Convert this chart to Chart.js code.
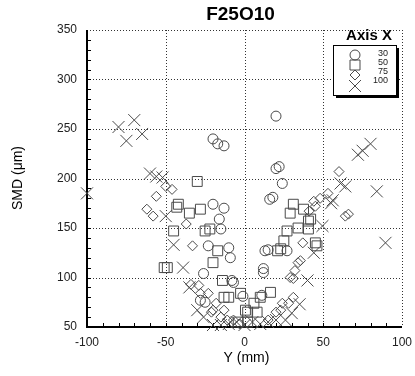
<!DOCTYPE html>
<html>
<head>
<meta charset="utf-8">
<script src="https://cdn.jsdelivr.net/npm/chart.js@4.4.0/dist/chart.umd.min.js"></script>
<style>
html, body { margin: 0; padding: 0; background: #fff; }
#wrap { width: 415px; height: 376px; }
</style>
</head>
<body>
<div id="wrap"><canvas id="smdChart" width="415" height="376"></canvas></div>
<script>
// radial position Y (mm) and SMD (um), one pair of arrays per axial station X
const pos30 = [-20, -17, -13, 20, 20, 22, 24, 16, 18, -20, -13, -16, -15, -23, -10, -9, -26, -28, -8, -7, 15, 13, 27, 12, 12, -25, -1, 11];
const smd30 = [240, 235, 233, 263, 210, 212, 195, 179, 181, 174, 170, 159, 149, 132, 130, 120, 104, 77, 97, 95, 128, 127, 127, 109, 105, 75, 81, 82];

const pos50 = [-30, -42, -43, -35, -28, -45, -25, -22, -17, -20, -51, -49, -14, -13, -10, -2.5, 16.5, 10, 6, 2, 0.6, 8, -4, 2, 31, 37.5, 29, 40.6, 34, 40.6, 27, 25, 23, 21, 45, 46, 42];
const smd50 = [197, 174, 171, 165, 169, 147, 147, 149, 127, 115, 110, 110, 97, 80, 80, 84, 85, 80, 74, 65, 67, 65, 55, 55, 174, 169, 165, 157, 150, 149, 147, 137, 129, 127, 135, 132, 159];

const pos75 = [-56, -58, -37, -33, -46, -50, -62, -23, -20, -15, -11, -28, -29, -34, -18, -21, -13, -7, -3, 29, 24, 20, 15, 23, 28, 31, 37, 34, 31, 60, 53, 48, 44, 64, 66, 41, 45, 35.5, 32];
const smd75 = [182, 162, 154, 132, 189, 192, 169, 84, 67, 60, 57, 84, 92, 93, 74, 65, 67, 57, 53, 100, 74, 65, 57, 67, 74, 80, 135, 115, 99, 207, 185, 180, 177, 162, 164, 167, 172, 117, 107];

const pos100 = [-100, -80, -75, -70, -65, -60, -56, -52, -50, -45, -39, -35, -30, -26, -20, -15, -10, -5, 0, 5, 10, 15, 20, 26, 30, 35, 40, 44, 49.5, 55, 56, 61, 64, 72, 75, 80, 84, 89.5];
const smd100 = [185, 252, 238, 259, 245, 205, 202, 201, 162, 133, 110, 90, 67, 60, 52, 52, 53, 55, 52, 55, 53, 55, 57, 57, 64, 73, 97, 125, 152, 175, 178, 195, 192, 224, 228, 235, 187, 135];

const stationLabels = ['30', '50', '75', '100'];
const xTicks = [-100, -50, 0, 50, 100];
const yTicks = [50, 100, 150, 200, 250, 300, 350];

const markStyles = ['circle', 'rect', 'rectRot', 'crossRot'];
const markRadius = [5, 7, 5, 8.5];
const inkColor = '#4a4a4a';

function toPoints(xs, ys) {
    return xs.map((x, i) => ({ x: x, y: ys[i] }));
}

const seriesData = [
    toPoints(pos30, smd30),
    toPoints(pos50, smd50),
    toPoints(pos75, smd75),
    toPoints(pos100, smd100)
];

// dotted grid, solid axes and minor ticks, drawn through the scales
const framePlugin = {
    id: 'frame',
    beforeDatasetsDraw(chart) {
        const ctx = chart.ctx;
        const xs = chart.scales.x;
        const ys = chart.scales.y;
        const a = chart.chartArea;
        ctx.save();
        ctx.strokeStyle = '#333';
        ctx.lineWidth = 1;
        ctx.setLineDash([1, 2]);
        xTicks.slice(1).forEach(v => {
            const px = Math.round(xs.getPixelForValue(v)) + 0.5;
            ctx.beginPath();
            ctx.moveTo(px, a.top);
            ctx.lineTo(px, a.bottom);
            ctx.stroke();
        });
        yTicks.slice(1).forEach(v => {
            const py = Math.round(ys.getPixelForValue(v)) + 0.5;
            ctx.beginPath();
            ctx.moveTo(a.left, py);
            ctx.lineTo(a.right, py);
            ctx.stroke();
        });
        ctx.setLineDash([]);

        // minor ticks every 10 units, pointing inwards
        ctx.strokeStyle = '#000';
        for (let v = 60; v < 350; v += 10) {
            const py = Math.round(ys.getPixelForValue(v)) + 0.5;
            ctx.beginPath();
            ctx.moveTo(a.left, py);
            ctx.lineTo(a.left + 4, py);
            ctx.stroke();
        }
        for (let v = -90; v < 100; v += 10) {
            const px = Math.round(xs.getPixelForValue(v)) + 0.5;
            ctx.beginPath();
            ctx.moveTo(px, a.bottom);
            ctx.lineTo(px, a.bottom - 4);
            ctx.stroke();
        }

        // solid left and bottom axes
        ctx.lineWidth = 2;
        ctx.beginPath();
        ctx.moveTo(a.left, a.top);
        ctx.lineTo(a.left, a.bottom);
        ctx.lineTo(a.right, a.bottom);
        ctx.stroke();
        ctx.restore();
    },
    afterDraw(chart) {
        const ctx = chart.ctx;
        const a = chart.chartArea;
        const cx = (a.left + a.right) / 2;
        ctx.save();
        ctx.fillStyle = '#000';
        ctx.textAlign = 'center';
        ctx.textBaseline = 'middle';

        ctx.font = 'bold 19px "Liberation Sans", Arial, sans-serif';
        ctx.fillText('F25O10', cx - 4, 15);

        ctx.font = '14px "Liberation Sans", Arial, sans-serif';
        ctx.fillText('Y (mm)', cx + 2, 358);

        ctx.save();
        ctx.translate(18, 178);
        ctx.rotate(-Math.PI / 2);
        ctx.font = '14px "Liberation Sans", Arial, sans-serif';
        ctx.fillText('SMD (\u03bcm)', 0, 0);
        ctx.restore();

        // legend box with drop shadow
        const bx = 333, by = 45, bw = 63, bh = 50;
        ctx.fillStyle = '#000';
        ctx.fillRect(bx + 3, by + 3, bw, bh);
        ctx.fillStyle = '#fff';
        ctx.fillRect(bx, by, bw, bh);
        ctx.strokeStyle = '#000';
        ctx.lineWidth = 1;
        ctx.strokeRect(bx + 0.5, by + 0.5, bw, bh);

        ctx.fillStyle = '#000';
        ctx.font = 'bold 15px "Liberation Sans", Arial, sans-serif';
        ctx.fillText('Axis X', 369, 36);

        const rowY = [55, 65, 75, 86];
        const labelY = [54, 63, 72, 81];
        ctx.strokeStyle = inkColor;
        ctx.lineWidth = 1;
        stationLabels.forEach((lab, i) => {
            const mx = 355, my = rowY[i];
            ctx.beginPath();
            if (i === 0) {
                ctx.arc(mx, my, 5, 0, Math.PI * 2);
            } else if (i === 1) {
                ctx.rect(mx - 5, my - 5, 10, 10);
            } else if (i === 2) {
                ctx.moveTo(mx, my - 5);
                ctx.lineTo(mx + 5, my);
                ctx.lineTo(mx, my + 5);
                ctx.lineTo(mx - 5, my);
                ctx.closePath();
            } else {
                ctx.moveTo(mx - 6, my - 6);
                ctx.lineTo(mx + 6, my + 6);
                ctx.moveTo(mx + 6, my - 6);
                ctx.lineTo(mx - 6, my + 6);
            }
            ctx.stroke();
            ctx.fillStyle = '#222';
            ctx.font = '9px "Liberation Sans", Arial, sans-serif';
            ctx.textAlign = 'right';
            ctx.fillText(lab, 388, labelY[i]);
        });
        ctx.restore();
    }
};

const ctx = document.getElementById('smdChart').getContext('2d');
const smdChart = new Chart(ctx, {
    type: 'scatter',
    data: {
        datasets: stationLabels.map((lab, i) => ({
            label: lab,
            data: seriesData[i],
            pointStyle: markStyles[i],
            pointRadius: markRadius[i],
            pointBorderWidth: 1,
            pointBorderColor: inkColor,
            pointBackgroundColor: 'rgba(0,0,0,0)',
            clip: false
        }))
    },
    options: {
        responsive: false,
        animation: false,
        devicePixelRatio: 1,
        layout: {
            padding: { top: 30, right: 13, left: 0, bottom: 0 }
        },
        scales: {
            x: {
                type: 'linear',
                min: -100,
                max: 100,
                afterFit: function(scale) {
                    scale.height = 49;
                    scale.paddingLeft = 0;
                    scale.paddingRight = 0;
                },
                afterBuildTicks: function(scale) {
                    scale.ticks = xTicks.map(v => ({ value: v }));
                },
                ticks: {
                    padding: 8,
                    color: '#222',
                    font: { family: '"Liberation Sans", Arial, sans-serif', size: 12 },
                    maxRotation: 0,
                    autoSkip: false
                },
                grid: { display: false, drawTicks: false },
                border: { display: false }
            },
            y: {
                type: 'linear',
                min: 50,
                max: 350,
                afterFit: function(scale) {
                    scale.width = 87;
                    scale.paddingTop = 0;
                    scale.paddingBottom = 0;
                },
                afterBuildTicks: function(scale) {
                    scale.ticks = yTicks.map(v => ({ value: v }));
                },
                ticks: {
                    padding: 10,
                    color: '#222',
                    font: { family: '"Liberation Sans", Arial, sans-serif', size: 12 },
                    autoSkip: false
                },
                grid: { display: false, drawTicks: false },
                border: { display: false }
            }
        },
        plugins: {
            legend: { display: false },
            tooltip: { enabled: false }
        }
    },
    plugins: [framePlugin]
});
</script>
</body>
</html>
